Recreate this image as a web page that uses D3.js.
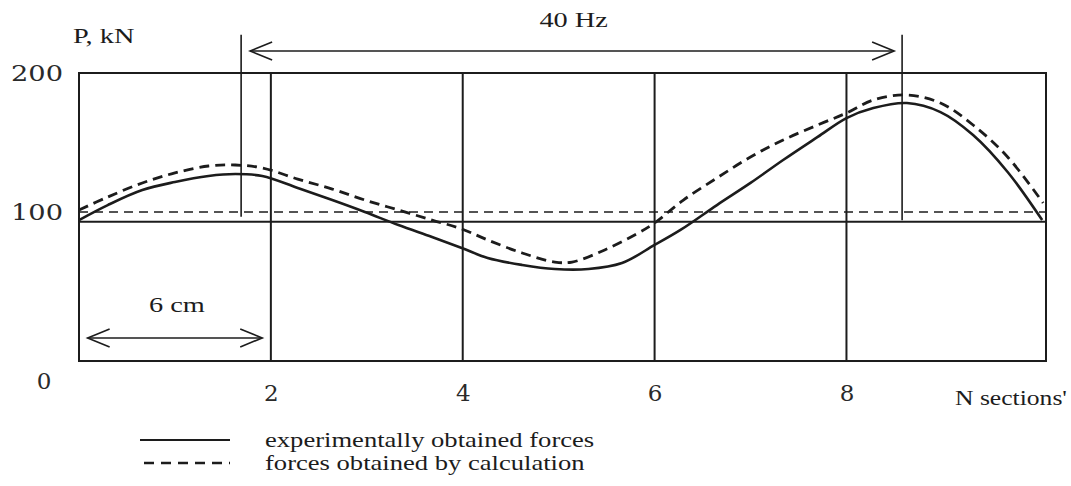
<!DOCTYPE html>
<html>
<head>
<meta charset="utf-8">
<script src="https://cdn.jsdelivr.net/npm/d3@7"></script>
<style>
  html, body { margin: 0; padding: 0; background: #fff; }
  svg { display: block; }
</style>
</head>
<body>
<div id="chart"></div>
<script>
// Section numbers and loads along the beam (P, kN)
const expX = [0, 0.30, 0.66, 1.00, 1.35, 1.63, 1.91, 2.28, 2.64, 2.98, 3.33, 3.68, 3.99, 4.26, 4.62, 4.96, 5.31, 5.66, 6.00, 6.27, 6.65, 7.00, 7.34, 7.70, 8.00, 8.28, 8.63, 8.98, 9.32, 9.68, 10.04];
const expP = [94.2, 105.0, 115.8, 121.6, 125.9, 127.3, 125.9, 117.3, 108.6, 100.0, 90.6, 82.0, 74.1, 66.9, 61.9, 59.0, 59.0, 63.3, 76.3, 87.1, 105.0, 120.9, 137.4, 154.0, 167.6, 174.8, 178.4, 171.9, 155.4, 128.8, 94.2];

const calcX = [0, 0.30, 0.66, 1.00, 1.35, 1.63, 1.91, 2.28, 2.64, 2.98, 3.33, 3.68, 3.99, 4.26, 4.62, 4.96, 5.14, 5.48, 5.83, 6.00, 6.30, 6.65, 7.00, 7.34, 7.70, 8.00, 8.28, 8.63, 8.98, 9.32, 9.68, 10.05];
const calcP = [101.4, 110.8, 120.9, 128.1, 133.1, 133.8, 131.7, 123.7, 116.5, 108.6, 101.4, 94.2, 87.8, 79.9, 70.5, 64.0, 64.0, 72.7, 84.9, 92.1, 108.6, 124.5, 139.6, 151.8, 162.6, 171.2, 180.6, 184.2, 178.4, 162.6, 139.6, 106.5];

// Axis ticks
const xTicks = [2, 4, 6, 8];
const yTicks = [100, 200];

// Reference levels (kN): static level and measured base level
const refDashed = 100;
const refSolid = 93;

// Boundaries of the 40 Hz zone (section numbers)
const zoneBounds = [1.69, 8.58];
// 6 cm measuring span (section numbers)
const spanBounds = [0.09, 1.91];

const legendItems = ["experimentally obtained forces", "forces obtained by calculation"];

const W = 1071, H = 486;
const xMax = 10.08, yFloor = -7.2;

const x = d3.scaleLinear().domain([0, xMax]).range([79, 1046]);
const y = d3.scaleLinear().domain([0, 200]).range([351, 73]);

const ink = "#1c1c1c";
const svg = d3.select("#chart").append("svg")
  .attr("width", W).attr("height", H)
  .style("background", "#fff");

// Grid: vertical section lines
svg.append("g").selectAll("line").data(xTicks).join("line")
  .attr("x1", d => x(d)).attr("x2", d => x(d))
  .attr("y1", y(200)).attr("y2", y(yFloor))
  .attr("stroke", ink).attr("stroke-width", 2);

// Reference levels
svg.append("line")
  .attr("x1", x(0)).attr("x2", x(xMax))
  .attr("y1", y(refSolid)).attr("y2", y(refSolid))
  .attr("stroke", ink).attr("stroke-width", 1.8);
svg.append("line")
  .attr("x1", x(0)).attr("x2", x(xMax))
  .attr("y1", y(refDashed)).attr("y2", y(refDashed))
  .attr("stroke", ink).attr("stroke-width", 1.4)
  .attr("stroke-dasharray", "9,6");

// Frame
svg.append("rect")
  .attr("x", x(0)).attr("y", y(200))
  .attr("width", x(xMax) - x(0)).attr("height", y(yFloor) - y(200))
  .attr("fill", "none").attr("stroke", ink).attr("stroke-width", 2);

// Curves
const line = d3.line().curve(d3.curveCatmullRom.alpha(0.5));
svg.append("path")
  .attr("d", line(expX.map((d, i) => [x(d), y(expP[i])])))
  .attr("fill", "none").attr("stroke", ink).attr("stroke-width", 2.6);
svg.append("path")
  .attr("d", line(calcX.map((d, i) => [x(d), y(calcP[i])])))
  .attr("fill", "none").attr("stroke", ink).attr("stroke-width", 2.8)
  .attr("stroke-dasharray", "10,6");

// Axes (labels only)
const tickFont = "'DejaVu Serif', serif";
const yAxis = svg.append("g")
  .attr("transform", `translate(${x(0) - 16},0)`)
  .call(d3.axisLeft(y).tickValues(yTicks).tickSize(0).tickPadding(0));
yAxis.select(".domain").remove();
yAxis.selectAll("text")
  .attr("font-family", tickFont).attr("font-size", 23)
  .attr("textLength", 52).attr("lengthAdjust", "spacingAndGlyphs")
  .attr("fill", "#2a2a2a");

const xAxis = svg.append("g")
  .attr("transform", `translate(0,${y(yFloor)})`)
  .call(d3.axisBottom(x).tickValues(xTicks).tickSize(0).tickPadding(24));
xAxis.select(".domain").remove();
xAxis.selectAll("text")
  .attr("font-family", tickFont).attr("font-size", 23).attr("fill", "#2a2a2a");

svg.append("text")
  .attr("x", x(0) - 35).attr("y", y(yFloor) + 28)
  .attr("text-anchor", "middle")
  .attr("font-family", tickFont).attr("font-size", 23).attr("fill", "#2a2a2a")
  .text("0");

// Serif labels, set slightly extended
const serif = "'Liberation Serif', 'Times New Roman', serif";
function label(px, py, txt, size, anchor, sx) {
  return svg.append("text")
    .attr("transform", `translate(${px},${py}) scale(${sx || 1.35},1)`)
    .attr("text-anchor", anchor || "start")
    .attr("font-family", serif).attr("font-size", size).attr("fill", ink)
    .text(txt);
}

label(73, 43, "P, kN", 21);
label(955, 405, "N sections'", 20, "start", 1.28);

// Double-headed arrow with open chevron heads
function arrow(x1, x2, yy) {
  const g = svg.append("g").attr("stroke", ink).attr("fill", "none").attr("stroke-width", 1.6);
  g.append("line").attr("x1", x1).attr("x2", x2).attr("y1", yy).attr("y2", yy);
  g.append("path").attr("d", `M${x1 + 22},${yy - 9} L${x1},${yy} L${x1 + 22},${yy + 9}`);
  g.append("path").attr("d", `M${x2 - 22},${yy - 9} L${x2},${yy} L${x2 - 22},${yy + 9}`);
}

// 40 Hz zone markers
const zoneTop = 227.5, zoneBottom = 96.5;
svg.append("g").selectAll("line").data(zoneBounds).join("line")
  .attr("x1", d => x(d)).attr("x2", d => x(d))
  .attr("y1", y(zoneTop)).attr("y2", (d, i) => y(zoneBottom - i * 2.5))
  .attr("stroke", ink).attr("stroke-width", 1.6);
arrow(x(zoneBounds[0]) + 9, x(zoneBounds[1]) - 8, y(215.8));
label((x(zoneBounds[0]) + x(zoneBounds[1])) / 2 + 2, 27, "40 Hz", 21, "middle");

// 6 cm span
arrow(x(spanBounds[0]), x(spanBounds[1]), y(9.4));
label((x(spanBounds[0]) + x(spanBounds[1])) / 2 + 2, 312, "6 cm", 21, "middle");

// Legend
legendItems.forEach((t, i) => {
  const yy = 440 + i * 23;
  svg.append("line")
    .attr("x1", 140 + i * 4).attr("x2", 230).attr("y1", yy).attr("y2", yy)
    .attr("stroke", ink).attr("stroke-width", i === 0 ? 2.2 : 2.4)
    .attr("stroke-dasharray", i === 0 ? null : "10,7");
  label(265, yy + 7, t, 20, "start", 1.33);
});
</script>
</body>
</html>
